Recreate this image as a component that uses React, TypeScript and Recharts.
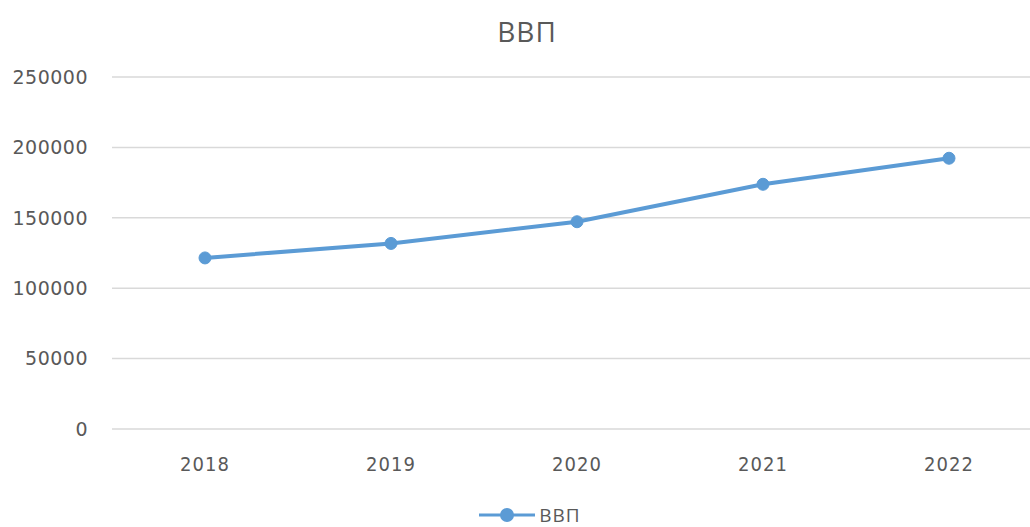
import { LineChart, Line, XAxis, YAxis, CartesianGrid, Legend } from "recharts";

const YEARS = ["2018", "2019", "2020", "2021", "2022"];
const GDP = [121500, 131800, 147200, 173800, 192300];
const Y_TICKS = [0, 50000, 100000, 150000, 200000, 250000];

const data = YEARS.map((year, i) => ({ year, gdp: GDP[i] }));

const BLUE = "#5B9BD5";
const TEXT = "#595959";

function LegendContent() {
  return (
    <div style={{ display: "flex", justifyContent: "center", alignItems: "center", height: 24 }}>
      <svg width={56} height={20} style={{ marginLeft: 18 }}>
        <line x1={0} y1={10} x2={56} y2={10} stroke={BLUE} strokeWidth={3} />
        <circle cx={28} cy={10} r={7} fill={BLUE} />
      </svg>
      <span style={{ marginLeft: 4, fontFamily: "Open Sans", fontSize: 19, lineHeight: "22px", color: TEXT, letterSpacing: 1 }}>
        ВВП
      </span>
    </div>
  );
}

export default function App() {
  return (
    <div style={{ position: "absolute", left: 0, top: 0, width: 1030, height: 527, overflow: "hidden", background: "#fff" }}>
      <div
        style={{
          position: "absolute",
          top: 12,
          left: 0,
          width: 1054,
          textAlign: "center",
          fontFamily: "Open Sans",
          fontSize: 28,
          color: TEXT,
          letterSpacing: 1,
        }}
      >
        ВВП
      </div>
      <LineChart width={1054} height={527} data={data} margin={{ top: 77, right: 12, bottom: 22, left: 0 }}>
        <CartesianGrid vertical={false} stroke="#d9d9d9" strokeWidth={1.5} />
        <XAxis
          dataKey="year"
          axisLine={false}
          tickLine={false}
          height={52}
          tickMargin={22}
          padding={{ left: 93, right: 93 }}
          tick={{ fill: TEXT, fontSize: 20, fontFamily: "DejaVu Sans Condensed", letterSpacing: 1 }}
        />
        <YAxis
          width={112}
          domain={[0, 250000]}
          ticks={Y_TICKS}
          axisLine={false}
          tickLine={false}
          tickMargin={18}
          tick={{ fill: TEXT, fontSize: 19, fontFamily: "DejaVu Sans", letterSpacing: 0.5 }}
        />
        <Legend verticalAlign="bottom" content={<LegendContent />} wrapperStyle={{ bottom: 0 }} />
        <Line
          type="linear"
          dataKey="gdp"
          name="ВВП"
          stroke={BLUE}
          strokeWidth={4}
          dot={{ r: 6, fill: BLUE, stroke: BLUE, strokeWidth: 1 }}
          isAnimationActive={false}
        />
      </LineChart>
    </div>
  );
}
